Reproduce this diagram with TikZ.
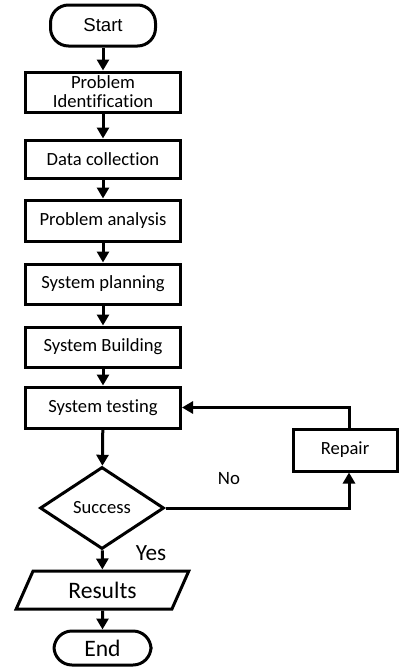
\documentclass[tikz,border=0pt]{standalone}
\usepackage{fontspec}
\setmainfont[Ligatures=NoCommon]{Carlito}
\newfontfamily\arialfont{Liberation Sans}
\usetikzlibrary{shapes.geometric,arrows.meta}

\tikzset{
  box/.style={draw,line width=1.5pt,minimum width=77.5pt,minimum height=20pt,inner sep=1pt,align=center,font=\fontsize{9.3}{10.5}\selectfont},
  term/.style={draw,line width=1.5pt,rounded corners=9pt,inner sep=0pt},
  dec/.style={draw,diamond,line width=1.5pt,minimum width=62pt,minimum height=41pt,inner sep=0pt,font=\fontsize{9.3}{10.5}\selectfont},
  io/.style={draw,trapezium,trapezium left angle=63.4,trapezium right angle=116.6,trapezium stretches=true,line width=1.5pt,minimum width=86.5pt,minimum height=19pt,inner sep=0pt,font=\fontsize{11.8}{13}\selectfont},
  flow/.style={line width=1.5pt,-{Triangle[length=5.5pt,width=6pt]}}
}

\begin{document}
\begin{tikzpicture}[x=0.5pt,y=-0.5pt]
\useasboundingbox (0,0) rectangle (399,669);

\node[term,minimum width=52.5pt,minimum height=20.5pt,font=\arialfont\fontsize{9.3}{10.5}\selectfont] (start) at (103,25.5) {Start};
\node[box] (ident) at (103,92) {Problem\\[-1pt]Identification};
\node[box,minimum height=19pt] (data) at (103,159) {Data collection};
\node[box,minimum height=20.5pt] (analysis) at (103,220.5) {Problem analysis};
\node[box] (planning) at (103,284) {System planning};
\node[box] (building) at (103,347) {System Building};
\node[box,minimum height=20.5pt] (testing) at (103,407.5) {System testing};
\node[dec] (success) at (102,508) {Success};
\node[box,minimum width=52pt,minimum height=21pt] (repair) at (345,450) {Repair};
\node[io] (results) at (102.5,590) {Results};
\node[term,minimum width=48.5pt,minimum height=17pt,font=\fontsize{11.8}{13}\selectfont] (end) at (102.5,648) {End};

\node[font=\fontsize{9.4}{10.5}\selectfont] (no) at (229,479) {No};
\node[font=\fontsize{11.6}{13}\selectfont] (yes) at (151,553) {Yes};

\draw[flow] (start) -- (ident);
\draw[flow] (ident) -- (data);
\draw[flow] (data) -- (analysis);
\draw[flow] (analysis) -- (planning);
\draw[flow] (planning) -- (building);
\draw[flow] (building) -- (testing);
\draw[flow] (testing) -- (success);
\draw[flow] (success) -- (results);
\draw[flow] (results) -- (end);
\draw[flow] (success.east) -| ([xshift=2pt]repair.south);
\draw[flow] ([xshift=2pt]repair.north) |- (testing.east);

\end{tikzpicture}
\end{document}
